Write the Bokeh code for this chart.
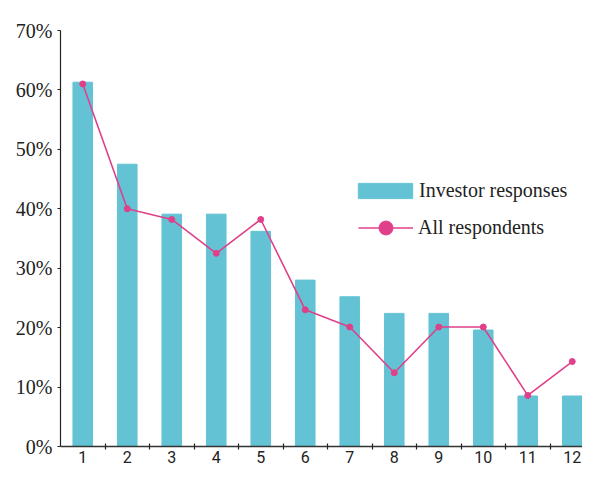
from bokeh.plotting import figure
from bokeh.models import (Range1d, FixedTicker, PrintfTickFormatter, Legend, LegendItem,
                          ColumnDataSource)
from bokeh.embed import file_html
from bokeh.resources import INLINE

categories = [1, 2, 3, 4, 5, 6, 7, 8, 9, 10, 11, 12]
investor_responses = [61.3, 47.5, 39.1, 39.1, 36.2, 28.0, 25.2, 22.4, 22.4, 19.6, 8.5, 8.5]
all_respondents = [61.0, 40.0, 38.2, 32.5, 38.2, 23.0, 20.1, 12.4, 20.1, 20.1, 8.6, 14.3]
y_ticks = [0, 10, 20, 30, 40, 50, 60, 70]

BAR = "#63C3D5"
PINK = "#E0408A"
SERIF = "Liberation Serif"

src = ColumnDataSource(dict(x=categories, inv=investor_responses, all=all_respondents))

p = figure(width=582, height=465, output_backend="svg", toolbar_location=None,
           x_range=Range1d(0.5, 12.23), y_range=Range1d(0, 70),
           min_border_left=60, min_border_right=0, min_border_top=30, min_border_bottom=18)
p.outline_line_color = None
p.xgrid.visible = False
p.ygrid.visible = False
p.background_fill_color = "white"

bars = p.vbar(x="x", top="inv", width=0.44, source=src, fill_color=BAR, line_color=BAR)
line = p.line(x="x", y="all", source=src, line_color=PINK, line_width=1.6)
dots = p.scatter(x="x", y="all", source=src, size=6, fill_color=PINK, line_color=PINK)

# x axis
xa = p.xaxis[0]
xa.ticker = FixedTicker(ticks=categories, minor_ticks=[c + 0.5 for c in categories[:-1]])
xa.major_tick_out = 0
xa.major_tick_in = 0
xa.minor_tick_out = 3
xa.minor_tick_in = 3
xa.minor_tick_line_color = "#222222"
xa.minor_tick_line_width = 1.2
xa.axis_line_color = "#333333"
xa.axis_line_width = 1.3
xa.major_label_standoff = 1
xa.major_label_text_font = "Roboto"
xa.major_label_text_font_size = "16px"
xa.major_label_text_color = "#222222"

# y axis
ya = p.yaxis[0]
ya.ticker = FixedTicker(ticks=y_ticks)
ya.formatter = PrintfTickFormatter(format="%d%%")
ya.major_tick_out = 3
ya.major_tick_in = 0
ya.minor_tick_out = 0
ya.minor_tick_in = 0
ya.major_tick_line_color = "#222222"
ya.axis_line_color = "#222222"
ya.axis_line_width = 1.2
ya.major_label_standoff = 5
ya.major_label_text_font = SERIF
ya.major_label_text_font_size = "20px"
ya.major_label_text_color = "#222222"

def make_legend(items, loc, gw, gh, standoff):
    lg = Legend(items=items, location=loc, glyph_width=gw, glyph_height=gh,
                label_standoff=standoff, padding=0, margin=0, spacing=0,
                border_line_color=None, background_fill_alpha=0,
                label_text_font=SERIF, label_text_font_size="20px",
                label_text_color="#222222")
    return lg

lg1 = make_legend([LegendItem(label="Investor responses", renderers=[bars])], (291, 244), 68, 19, 0)
lg2 = make_legend([LegendItem(label="All respondents", renderers=[line, dots])], (298, 201), 55, 35, 5)
p.add_layout(lg1, "center")
p.add_layout(lg2, "center")

open("out.html", "w").write(file_html(p, INLINE))
